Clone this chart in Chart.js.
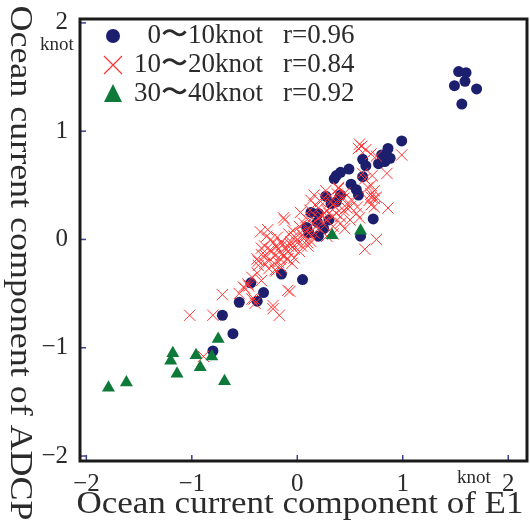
<!DOCTYPE html>
<html>
<head>
<meta charset="utf-8">
<script src="https://cdn.jsdelivr.net/npm/chart.js@4/dist/chart.umd.min.js"></script>
<style>
  html, body { margin: 0; background: #fff; }
</style>
</head>
<body>
<canvas id="chart" width="530" height="522"></canvas>
<script>
const tickVals = [-2, -1, 0, 1, 2];

const legendNames = ["0〜10knot", "10〜20knot", "30〜40knot"];
const legendR = ["r=0.96", "r=0.84", "r=0.92"];

// 0~10 knot (circles)
const calmX = [1.53, 1.60, 1.59, 1.49, 1.70, 1.56,
  0.99, 0.86, 0.88, 0.80, 0.77, 0.83, 0.62, 0.65, 0.49, 0.41, 0.37, 0.35, 0.62, 0.51,
  0.56, 0.58, 0.41, 0.27, 0.37, 0.32, 0.13, 0.20, 0.19, 0.30, 0.09, 0.11, 0.25, 0.20,
  0.72, 0.60, -0.15, 0.05, -0.44, -0.32, -0.38, -0.55, -0.71, -0.61, -0.80];
const calmY = [1.55, 1.54, 1.46, 1.42, 1.39, 1.25,
  0.91, 0.84, 0.75, 0.78, 0.70, 0.72, 0.74, 0.68, 0.65, 0.62, 0.59, 0.56, 0.58, 0.51,
  0.46, 0.41, 0.41, 0.40, 0.35, 0.33, 0.25, 0.24, 0.16, 0.18, 0.11, 0.06, 0.10, 0.03,
  0.19, 0.03, -0.32, -0.37, -0.40, -0.49, -0.57, -0.58, -0.70, -0.87, -1.03];

// 10~20 knot (crosses)
const midX = [0.61, 0.65, 0.59, 0.58, 0.70, 0.75, 0.99, 0.85, 0.71, 0.62, 0.64, 0.39, 0.70, 0.67,
  0.73, 0.75, 0.70, 0.68, 0.73, 0.86, 0.59, 0.50, 0.75, 0.64, 0.41, 0.34, 0.47, 0.44, 0.37,
  0.28, 0.22, 0.17, 0.13, 0.16, 0.03, -0.13, 0.06, 0.10, -0.03, -0.06, -0.09, -0.15, -0.18,
  -0.21, -0.24, -0.31, -0.35, -0.28, -0.29, -0.34, -0.38, -0.37, -0.38, -0.43, -0.46, -0.51,
  -0.55, -0.43, -0.71, -0.07, -0.23, -0.17, -0.80, -1.02, -0.21, -0.18, -0.12, -0.09, -0.03,
  0.00, 0.10, 0.13, 0.16, 0.22, 0.28, 0.33, 0.41, -0.40, -0.41, -0.89, -0.12, -0.34, -0.23,
  -0.15, -0.10, -0.37, -0.20, -0.15, -0.34, -0.47, -0.50, -0.09, -0.23, -0.06, 0.00, 0.06,
  0.10, 0.02, -0.03, 0.11, 0.13, 0.20, 0.26, 0.50, 0.56, 0.03, -0.09, 0.70, 0.73, 0.70,
  0.39, 0.44, 0.34, 0.47, -0.20, -0.26, -0.16, -0.12, -0.27, -0.22, -0.30, 0.05, 0.18, 0.24,
  0.30, 0.36, 0.25, 0.31, 0.40, 0.14, 0.20, 0.08, 0.34, 0.28,
  -0.25, -0.19, -0.14, -0.08, -0.27, -0.31, -0.05, 0.04, 0.15, 0.23, 0.32, 0.38, 0.27, 0.45,
  0.52, 0.57, 0.12, 0.45, 0.02, -0.04];
const midY = [0.86, 0.83, 0.88, 0.84, 0.79, 0.77, 0.78, 0.61, 0.59, 0.61, 0.56, 0.48, 0.50, 0.48,
  0.45, 0.39, 0.39, 0.36, 0.30, 0.29, 0.20, 0.18, 0.00, -0.09, 0.15, 0.12, 0.33, 0.27, 0.24,
  0.27, 0.35, 0.32, 0.36, 0.41, 0.25, 0.20, 0.15, 0.09, 0.03, -0.02, -0.06, -0.03, -0.09,
  -0.15, -0.11, -0.06, 0.07, 0.09, 0.03, -0.14, -0.18, -0.24, -0.31, -0.35, -0.43, -0.44,
  -0.50, -0.55, -0.51, -0.48, -0.64, -0.70, -0.70, -0.70, -0.28, -0.21, -0.15, -0.18, -0.09,
  -0.03, -0.03, 0.03, 0.06, 0.09, 0.18, 0.21, 0.21, -0.59, -0.55, -1.08, 0.18, -0.08, -0.03,
  -0.14, -0.18, -0.20, -0.29, -0.26, -0.38, -0.41, -0.45, -0.47, -0.61, -0.05, 0.00, 0.01,
  -0.06, -0.11, -0.17, 0.06, -0.02, 0.29, 0.24, 0.30, 0.24, 0.06, -0.11, 0.42, 0.38, 0.32,
  0.47, 0.38, 0.32, 0.29, -0.06, -0.10, -0.18, -0.08, -0.20, -0.22, -0.15, 0.04, 0.12, 0.15,
  0.24, 0.30, 0.38, 0.40, 0.36, 0.20, 0.20, 0.20, 0.05, 0.03,
  0.00, 0.02, -0.05, 0.05, -0.27, -0.22, -0.22, -0.06, 0.15, 0.22, 0.35, 0.42, 0.45, 0.43,
  0.36, 0.30, 0.27, 0.10, 0.12, 0.08];

// 30~40 knot (triangles)
const strongX = [-1.79, -1.62, -1.18, -1.20, -1.14, -0.96, -0.92, -0.81, -0.75, -0.69, 0.33, 0.60];
const strongY = [-1.37, -1.32, -1.05, -1.12, -1.24, -1.07, -1.18, -1.08, -0.92, -1.31, 0.04, 0.08];

const navy = "#1c1e6e";
const red = "#ff3535";
const green = "#0e7a3a";
const ink = "#2b2b2b";
const serif = "'Liberation Serif', 'DejaVu Serif', serif";

function pts(xs, ys) {
  return xs.map((v, i) => ({ x: v, y: ys[i] }));
}

function minus(v) {
  return v < 0 ? "\u2212" + Math.abs(v) : String(v);
}

// text squeezed or stretched to a given width
function fitText(ctx, text, x, y, width, align) {
  const w = ctx.measureText(text).width;
  const k = width / w;
  ctx.save();
  ctx.translate(x, y);
  ctx.scale(k, 1);
  ctx.textAlign = align || "center";
  ctx.fillText(text, 0, 0);
  ctx.restore();
}

function marker(ctx, style, x, y) {
  ctx.beginPath();
  if (style === "circle") {
    ctx.fillStyle = navy;
    ctx.arc(x, y, 7, 0, Math.PI * 2);
    ctx.fill();
  } else if (style === "cross") {
    ctx.strokeStyle = red;
    ctx.lineWidth = 1.2;
    ctx.moveTo(x - 9, y - 9); ctx.lineTo(x + 9, y + 9);
    ctx.moveTo(x + 9, y - 9); ctx.lineTo(x - 9, y + 9);
    ctx.stroke();
  } else {
    ctx.fillStyle = green;
    ctx.moveTo(x, y - 10); ctx.lineTo(x + 9, y + 8); ctx.lineTo(x - 9, y + 8);
    ctx.closePath();
    ctx.fill();
  }
}

const frame = {
  id: "frame",
  afterDraw(chart) {
    const { ctx, chartArea: a, scales: { x, y } } = chart;
    ctx.save();

    // inward tick marks
    ctx.strokeStyle = "#3a3f95";
    ctx.lineWidth = 1.5;
    tickVals.forEach(v => {
      const px = x.getPixelForValue(v);
      const py = y.getPixelForValue(v);
      ctx.beginPath(); ctx.moveTo(px, a.bottom); ctx.lineTo(px, a.bottom - 6); ctx.stroke();
      ctx.beginPath(); ctx.moveTo(a.left, py); ctx.lineTo(a.left + 6, py); ctx.stroke();
    });

    // box
    ctx.strokeStyle = "#1a1a1a";
    ctx.lineWidth = 3;
    ctx.strokeRect(a.left, a.top, a.right - a.left + 6, a.bottom - a.top);

    ctx.fillStyle = ink;

    // unit labels
    ctx.textBaseline = "middle";
    ctx.font = "19px " + serif;
    ctx.textAlign = "center";
    ctx.fillText("knot", 57, 45);
    ctx.fillText("knot", 474, 478);

    // axis titles
    ctx.textBaseline = "alphabetic";
    ctx.font = "31px " + serif;
    fitText(ctx, "Ocean current component of E1", 300, 513, 447);
    ctx.save();
    ctx.translate(11, 263);
    ctx.rotate(Math.PI / 2);
    fitText(ctx, "Ocean current component of ADCP", 0, 0, 515);
    ctx.restore();

    // legend
    const styles = ["circle", "cross", "triangle"];
    const rows = [36, 65, 94];
    ctx.textBaseline = "middle";
    ctx.font = "27px " + serif;
    rows.forEach((ry, i) => {
      marker(ctx, styles[i], 113, ry);
      ctx.fillStyle = ink;
      ctx.textAlign = "right";
      ctx.fillText(legendNames[i], 263, ry);
      ctx.textAlign = "left";
      ctx.fillText(legendR[i], 283, ry);
    });

    ctx.restore();
  }
};

const tickFont = { family: serif, size: 25 };

new Chart(document.getElementById("chart"), {
  type: "scatter",
  data: {
    datasets: [
      {
        label: legendNames[2],
        data: pts(strongX, strongY),
        pointStyle: "triangle",
        radius: 7.5,
        backgroundColor: green,
        borderWidth: 0
      },
      {
        label: legendNames[1],
        data: pts(midX, midY),
        pointStyle: "crossRot",
        radius: 8,
        borderColor: red,
        borderWidth: 1
      },
      {
        label: legendNames[0],
        data: pts(calmX, calmY),
        pointStyle: "circle",
        radius: 5.5,
        backgroundColor: navy,
        borderWidth: 0
      }
    ]
  },
  options: {
    responsive: false,
    animation: false,
    events: [],
    layout: { padding: { top: 13, left: 0, right: 0, bottom: 0 } },
    plugins: { legend: { display: false }, tooltip: { enabled: false } },
    scales: {
      x: {
        type: "linear",
        min: -2.06,
        max: 2.121,
        afterBuildTicks: s => { s.ticks = tickVals.map(v => ({ value: v })); },
        afterFit: s => { s.height = 61; },
        grid: { display: false },
        border: { display: false },
        ticks: { padding: 0, color: ink, font: tickFont, maxRotation: 0, callback: v => minus(v) }
      },
      y: {
        type: "linear",
        min: -2.046,
        max: 2.036,
        afterBuildTicks: s => { s.ticks = tickVals.map(v => ({ value: v })); },
        afterFit: s => { s.width = 80; },
        grid: { display: false },
        border: { display: false },
        ticks: { padding: 4, color: ink, font: tickFont, callback: v => minus(v) }
      }
    }
  },
  plugins: [frame]
});
</script>
</body>
</html>
